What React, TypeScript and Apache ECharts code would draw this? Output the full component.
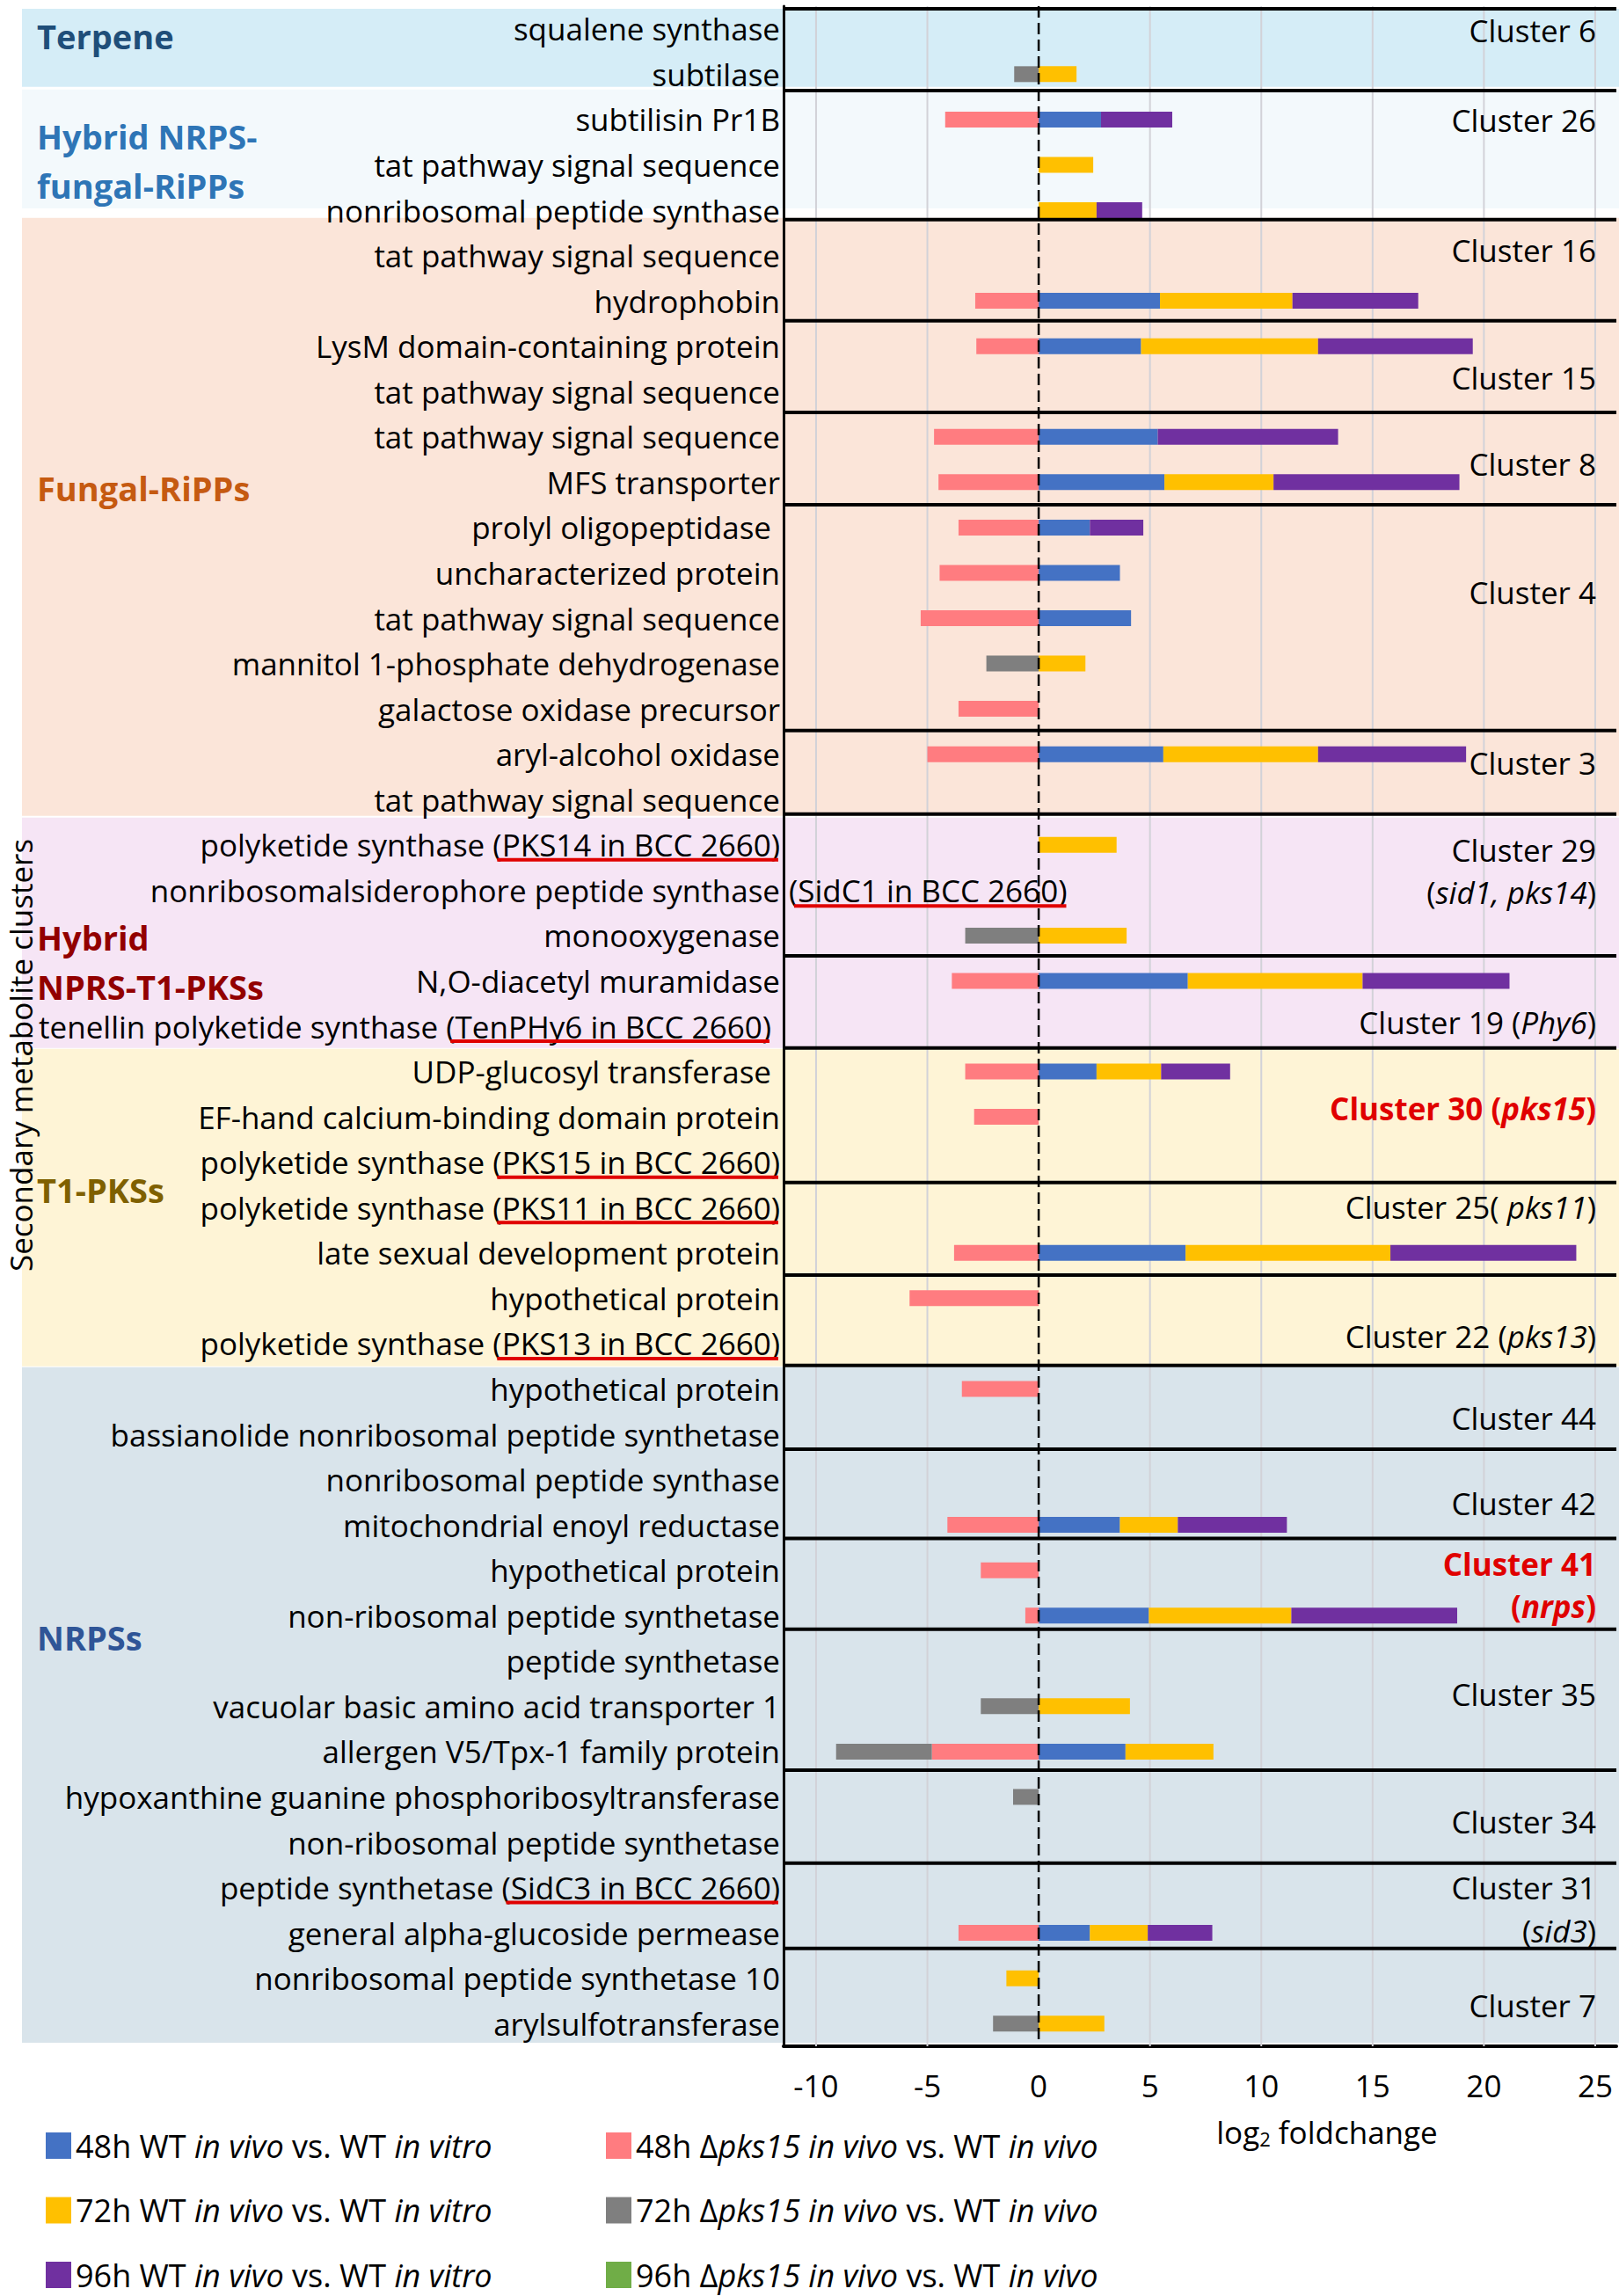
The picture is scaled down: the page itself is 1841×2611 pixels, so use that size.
import React, { useEffect, useRef } from "react";
import * as echarts from "echarts";

// ---------------- data ----------------
const rowLabels: string[] = [
  "squalene synthase",
  "subtilase",
  "subtilisin Pr1B",
  "tat pathway signal sequence",
  "nonribosomal peptide synthase",
  "tat pathway signal sequence",
  "hydrophobin",
  "LysM domain-containing protein",
  "tat pathway signal sequence",
  "tat pathway signal sequence",
  "MFS transporter",
  "prolyl oligopeptidase",
  "uncharacterized protein",
  "tat pathway signal sequence",
  "mannitol 1-phosphate dehydrogenase",
  "galactose oxidase precursor",
  "aryl-alcohol oxidase",
  "tat pathway signal sequence",
  "polyketide synthase (PKS14 in BCC 2660)",
  "nonribosomalsiderophore peptide synthase(SidC1 in BCC 2660)",
  "monooxygenase",
  "N,O-diacetyl muramidase",
  "tenellin polyketide synthase (TenPHy6 in BCC 2660)",
  "UDP-glucosyl transferase",
  "EF-hand calcium-binding domain protein",
  "polyketide synthase (PKS15 in BCC 2660)",
  "polyketide synthase (PKS11 in BCC 2660)",
  "late sexual development protein",
  "hypothetical protein",
  "polyketide synthase (PKS13 in BCC 2660)",
  "hypothetical protein",
  "bassianolide nonribosomal peptide synthetase",
  "nonribosomal peptide synthase",
  "mitochondrial enoyl reductase",
  "hypothetical protein",
  "non-ribosomal peptide synthetase",
  "peptide synthetase",
  "vacuolar basic amino acid transporter 1",
  "allergen V5/Tpx-1 family protein",
  "hypoxanthine guanine phosphoribosyltransferase",
  "non-ribosomal peptide synthetase",
  "peptide synthetase (SidC3 in BCC 2660)",
  "general alpha-glucoside permease",
  "nonribosomal peptide synthetase 10",
  "arylsulfotransferase",
];

const _ = null;
// 48h WT in vivo vs. WT in vitro
const wt48: (number | null)[] = [
  _, _, 2.8, _, _, _, 5.45, 4.6, _, 5.35, 5.65, 2.3, 3.65, 4.15, _, _, 5.6, _, _, _, _, 6.7, _,
  2.6, _, _, _, 6.6, _, _, _, _, _, 3.65, _, 4.95, _, _, 3.9, _, _, _, 2.3, _, _,
];
// 72h WT in vivo vs. WT in vitro
const wt72: (number | null)[] = [
  _, 1.7, _, 2.45, 2.6, _, 5.95, 7.95, _, _, 4.9, _, _, _, 2.1, _, 6.95, _, 3.5, _, 3.95, 7.85, _,
  2.9, _, _, _, 9.2, _, _, _, _, _, 2.6, _, 6.4, _, 4.1, 3.95, _, _, _, 2.6, -1.45, 2.95,
];
// 96h WT in vivo vs. WT in vitro
const wt96: (number | null)[] = [
  _, _, 3.2, _, 2.05, _, 5.65, 6.95, _, 8.1, 8.35, 2.4, _, _, _, _, 6.65, _, _, _, _, 6.6, _,
  3.1, _, _, _, 8.35, _, _, _, _, _, 4.9, _, 7.45, _, _, _, _, _, _, 2.9, _, _,
];
// 48h Δpks15 in vivo vs. WT in vivo
const pks48: (number | null)[] = [
  _, _, -4.2, _, _, _, -2.85, -2.8, _, -4.7, -4.5, -3.6, -4.45, -5.3, _, -3.6, -5.0, _, _, _, _, -3.9, _,
  -3.3, -2.9, _, _, -3.8, -5.8, _, -3.45, _, _, -4.1, -2.6, -0.6, _, _, -4.8, _, _, _, -3.6, _, _,
];
// 72h Δpks15 in vivo vs. WT in vivo
const pks72: (number | null)[] = [
  _, -1.1, _, _, _, _, _, _, _, _, _, _, _, _, -2.35, _, _, _, _, _, -3.3, _, _,
  _, _, _, _, _, _, _, _, _, _, _, _, _, _, -2.6, -4.3, -1.15, _, _, _, _, -2.05,
];
// 96h Δpks15 in vivo vs. WT in vivo (no visible values)
const pks96: (number | null)[] = [];

const xTicks = [-10, -5, 0, 5, 10, 15, 20, 25];
const X_MIN = -11.46;
const X_MAX = 25.95;

const seriesNames = [
  "48h WT in vivo vs. WT in vitro",
  "72h WT in vivo vs. WT in vitro",
  "96h WT in vivo vs. WT in vitro",
  "48h Δpks15 in vivo vs. WT in vivo",
  "72h Δpks15 in vivo vs. WT in vivo",
  "96h Δpks15 in vivo vs. WT in vivo",
];
const seriesColors = ["#4472C4", "#FFC000", "#7030A0", "#FF7C80", "#7F7F7F", "#70AD47"];
const seriesData = [wt48, wt72, wt96, pks48, pks72, pks96];
const legendRich: Record<string, string> = {
  "48h WT in vivo vs. WT in vitro": "48h WT {i|in vivo} vs. WT {i|in vitro}",
  "72h WT in vivo vs. WT in vitro": "72h WT {i|in vivo} vs. WT {i|in vitro}",
  "96h WT in vivo vs. WT in vitro": "96h WT {i|in vivo} vs. WT {i|in vitro}",
  "48h Δpks15 in vivo vs. WT in vivo": "48h Δ{i|pks15 in vivo} vs. WT {i|in vivo}",
  "72h Δpks15 in vivo vs. WT in vivo": "72h Δ{i|pks15 in vivo} vs. WT {i|in vivo}",
  "96h Δpks15 in vivo vs. WT in vivo": "96h Δ{i|pks15 in vivo} vs. WT {i|in vivo}",
};

// ---------------- annotation layout (row units: 0 = top of first row band) ----------------
const bgBands: [number, number, string][] = [
  [0.06, 1.78, "#D5EDF7"],
  [1.84, 4.46, "#F3F9FC"],
  [4.67, 17.86, "#FBE5D9"],
  [17.9, 22.98, "#F6E5F5"],
  [23.0, 30.0, "#FEF4D6"],
  [30.02, 44.92, "#D9E4EB"],
];
const separators = [0.06, 1.86, 4.71, 6.94, 8.96, 11.0, 15.98, 17.82, 20.95, 22.98, 25.95, 27.99,
  29.98, 31.83, 33.8, 35.8, 38.91, 40.96, 42.84];

type Part = [string, "n" | "i" | "r" | "ri"];
const clusterLabels: { u: number; parts: Part[] }[] = [
  { u: 0.54, parts: [["Cluster 6", "n"]] },
  { u: 2.52, parts: [["Cluster 26", "n"]] },
  { u: 5.39, parts: [["Cluster 16", "n"]] },
  { u: 8.2, parts: [["Cluster 15", "n"]] },
  { u: 10.1, parts: [["Cluster 8", "n"]] },
  { u: 12.92, parts: [["Cluster 4", "n"]] },
  { u: 16.7, parts: [["Cluster 3", "n"]] },
  { u: 18.62, parts: [["Cluster 29", "n"]] },
  { u: 19.55, parts: [["(", "n"], ["sid1, pks14", "i"], [")", "n"]] },
  { u: 22.42, parts: [["Cluster 19 (", "n"], ["Phy6", "i"], [")", "n"]] },
  { u: 24.32, parts: [["Cluster 30 (", "r"], ["pks15", "ri"], [")", "r"]] },
  { u: 26.49, parts: [["Cluster 25( ", "n"], ["pks11", "i"], [")", "n"]] },
  { u: 29.34, parts: [["Cluster 22 (", "n"], ["pks13", "i"], [")", "n"]] },
  { u: 31.15, parts: [["Cluster 44", "n"]] },
  { u: 33.03, parts: [["Cluster 42", "n"]] },
  { u: 34.37, parts: [["Cluster 41", "r"]] },
  { u: 35.3, parts: [["(", "r"], ["nrps", "ri"], [")", "r"]] },
  { u: 37.24, parts: [["Cluster 35", "n"]] },
  { u: 40.05, parts: [["Cluster 34", "n"]] },
  { u: 41.5, parts: [["Cluster 31", "n"]] },
  { u: 42.45, parts: [["(", "n"], ["sid3", "i"], [")", "n"]] },
  { u: 44.1, parts: [["Cluster 7", "n"]] },
];
const groupLabels: { u: number; text: string; color: string }[] = [
  { u: 0.66, text: "Terpene", color: "#1F4E79" },
  { u: 2.87, text: "Hybrid NRPS-", color: "#2E75B6" },
  { u: 3.96, text: "fungal-RiPPs", color: "#2E75B6" },
  { u: 10.63, text: "Fungal-RiPPs", color: "#C55A11" },
  { u: 20.54, text: "Hybrid", color: "#920000" },
  { u: 21.63, text: "NPRS-T1-PKSs", color: "#920000" },
  { u: 26.11, text: "T1-PKSs", color: "#7F6000" },
  { u: 35.98, text: "NRPSs", color: "#2F5597" },
];
const underlined: { row: number; text: string }[] = [
  { row: 18, text: "(PKS14 in BCC 2660)" },
  { row: 22, text: "(TenPHy6 in BCC 2660)" },
  { row: 25, text: "(PKS15 in BCC 2660)" },
  { row: 26, text: "(PKS11 in BCC 2660)" },
  { row: 29, text: "(PKS13 in BCC 2660)" },
  { row: 41, text: "(SidC3 in BCC 2660)" },
];
const overflowRow = 19;
const paddedRows = [11, 22, 23];
const yTitleRow = 23.14;

// ---------------- styling ----------------
const FONT = '"Open Sans", "Noto Sans", sans-serif';
const ROW_FS = 35;
const LABEL_MARGIN = 4;
const PAD_RIGHT = 10;
const RED = "#E00000";

function rowText(i: number): string {
  const t = rowLabels[i];
  if (i === overflowRow) return t.slice(0, t.indexOf("("));
  return t;
}

const option: any = {
  animation: false,
  grid: { left: 891, right: 3, top: 7, bottom: 284 },
  xAxis: {
    type: "value",
    min: X_MIN,
    max: X_MAX,
    axisLine: { show: true, lineStyle: { color: "#000", width: 4 } },
    axisTick: { show: false },
    splitLine: { show: false },
    axisLabel: {
      customValues: xTicks,
      fontSize: 35,
      fontFamily: FONT,
      color: "#000",
      margin: 27,
    },
  },
  yAxis: {
    type: "category",
    data: rowLabels,
    inverse: true,
    axisLine: { show: true, onZero: false, lineStyle: { color: "#000", width: 3 } },
    axisTick: { show: false },
    splitLine: { show: false },
    axisLabel: {
      interval: 0,
      fontSize: ROW_FS,
      fontFamily: FONT,
      color: "#000",
      margin: LABEL_MARGIN,
      formatter: (_v: string, idx: number) => {
        const t = rowText(idx);
        return paddedRows.includes(idx) ? `{p|${t}}` : t;
      },
      rich: {
        p: { fontSize: ROW_FS, fontFamily: FONT, color: "#000", padding: [0, PAD_RIGHT, 0, 0] },
      },
    },
  },
  legend: [0, 1].map((c) => ({
    data: seriesNames.slice(c * 3, c * 3 + 3),
    orient: "vertical",
    left: c === 0 ? 47 : 684,
    top: 2417,
    icon: "rect",
    itemWidth: 29,
    itemHeight: 30,
    itemGap: 37.5,
    selectedMode: false,
    formatter: (name: string) => legendRich[name],
    textStyle: {
      fontSize: 36,
      fontFamily: FONT,
      color: "#000",
      lineHeight: 36,
      rich: { i: { fontSize: 36, fontFamily: FONT, fontStyle: "italic", color: "#000", lineHeight: 36 } },
    },
  })),
  series: seriesNames.map((name, k) => ({
    name,
    type: "bar",
    stack: "fc",
    barWidth: 18,
    data: seriesData[k],
    itemStyle: { color: seriesColors[k] },
    z: 2,
  })),
};

function buildGraphic(chart: any): any[] {
  const c0 = chart.convertToPixel({ yAxisIndex: 0 }, 0) as number;
  const c1 = chart.convertToPixel({ yAxisIndex: 0 }, 1) as number;
  const band = c1 - c0;
  const yTop = c0 - band / 2;
  const yAt = (u: number) => yTop + u * band;
  const xAt = (v: number) => chart.convertToPixel({ xAxisIndex: 0 }, v) as number;
  const left = xAt(X_MIN);
  const right = xAt(X_MAX);
  const top = yAt(0);
  const bottom = yAt(rowLabels.length);
  const canvas = document.createElement("canvas").getContext("2d")!;
  const measure = (t: string, font: string) => {
    canvas.font = font;
    return canvas.measureText(t).width;
  };
  const rowFont = `${ROW_FS}px ${FONT}`;
  const els: any[] = [];

  // background bands
  bgBands.forEach(([s, e, col]) => {
    els.push({
      type: "rect",
      z: -10,
      silent: true,
      shape: { x: 25, y: yAt(s), width: 1841 - 25, height: yAt(e) - yAt(s) },
      style: { fill: col },
    });
  });
  // vertical grid lines
  xTicks.forEach((v) => {
    if (v === 0) return;
    const x = xAt(v);
    els.push({
      type: "line",
      z: 1,
      silent: true,
      shape: { x1: x, y1: top, x2: x, y2: bottom },
      style: { stroke: "#D2D2D8", lineWidth: 2 },
    });
  });
  // zero dashed line
  const x0 = xAt(0);
  els.push({
    type: "line",
    z: 10,
    silent: true,
    shape: { x1: x0, y1: top, x2: x0, y2: bottom },
    style: { stroke: "#000", lineWidth: 2.5, lineDash: [13, 6] },
  });
  // cluster separators
  separators.forEach((u) => {
    const y = yAt(u);
    els.push({
      type: "line",
      z: 6,
      silent: true,
      shape: { x1: left, y1: y, x2: right, y2: y },
      style: { stroke: "#000", lineWidth: 4 },
    });
  });
  // cluster labels
  const rich = {
    n: { fontSize: 35, fontFamily: FONT, fill: "#000" },
    i: { fontSize: 35, fontFamily: FONT, fontStyle: "italic", fill: "#000" },
    r: { fontSize: 35, fontFamily: FONT, fontWeight: "bold", fill: RED },
    ri: { fontSize: 35, fontFamily: FONT, fontWeight: "bold", fontStyle: "italic", fill: RED },
  };
  clusterLabels.forEach((c) => {
    els.push({
      type: "text",
      z: 7,
      silent: true,
      x: 1815,
      y: yAt(c.u),
      style: {
        text: c.parts.map(([t, s]) => `{${s}|${t}}`).join(""),
        rich,
        font: `35px ${FONT}`,
        fill: "#000",
        align: "right",
        textAlign: "right",
        verticalAlign: "middle",
        textVerticalAlign: "middle",
      },
    });
  });
  // group labels
  groupLabels.forEach((g) => {
    els.push({
      type: "text",
      z: 7,
      silent: true,
      x: 42,
      y: yAt(g.u),
      style: {
        text: g.text,
        font: `bold 38px ${FONT}`,
        fill: g.color,
        align: "left",
        textAlign: "left",
        verticalAlign: "middle",
        textVerticalAlign: "middle",
      },
    });
  });
  // underlines for row labels
  const labelRight = left - LABEL_MARGIN;
  underlined.forEach((u) => {
    const r = labelRight - (paddedRows.includes(u.row) ? PAD_RIGHT : 0);
    const w = measure(u.text, rowFont);
    const y = yAt(u.row + 0.5) + 17;
    els.push({
      type: "line",
      z: 7,
      silent: true,
      shape: { x1: r - w + 5, y1: y, x2: r - 2, y2: y },
      style: { stroke: RED, lineWidth: 4 },
    });
  });
  // overflowing label part for row 19
  {
    const full = rowLabels[overflowRow];
    const rest = full.slice(full.indexOf("("));
    const xs = left + 6;
    const yc = yAt(overflowRow + 0.5);
    els.push({
      type: "text",
      z: 7,
      silent: true,
      x: xs,
      y: yc,
      style: {
        text: rest,
        font: rowFont,
        fill: "#000",
        align: "left",
        textAlign: "left",
        verticalAlign: "middle",
        textVerticalAlign: "middle",
      },
    });
    const w = measure(rest, rowFont);
    els.push({
      type: "line",
      z: 7,
      silent: true,
      shape: { x1: xs + 6, y1: yc + 18, x2: xs + w - 1, y2: yc + 18 },
      style: { stroke: RED, lineWidth: 4 },
    });
  }
  // x-axis title
  els.push({
    type: "text",
    z: 7,
    silent: true,
    x: 1509,
    y: 2424,
    style: {
      text: "log{s|2} foldchange",
      font: `35px ${FONT}`,
      fill: "#000",
      rich: { s: { fontSize: 22, fontFamily: FONT, fill: "#000", padding: [16, 0, 0, 0] } },
      align: "center",
      textAlign: "center",
      verticalAlign: "middle",
      textVerticalAlign: "middle",
    },
  });
  // y-axis title
  els.push({
    type: "text",
    z: 7,
    silent: true,
    x: 23,
    y: yAt(yTitleRow),
    rotation: Math.PI / 2,
    style: {
      text: "Secondary metabolite clusters",
      font: `35px ${FONT}`,
      fill: "#000",
      align: "center",
      textAlign: "center",
      verticalAlign: "middle",
      textVerticalAlign: "middle",
    },
  });
  return els;
}

export default function App() {
  const ref = useRef<HTMLDivElement>(null);
  useEffect(() => {
    document.body.style.margin = "0";
    const chart = echarts.init(ref.current!, null, { renderer: "svg" });
    chart.setOption(option);
    chart.setOption({ graphic: { elements: buildGraphic(chart) } });
    return () => chart.dispose();
  }, []);
  return <div ref={ref} style={{ width: 1841, height: 2611 }} />;
}
